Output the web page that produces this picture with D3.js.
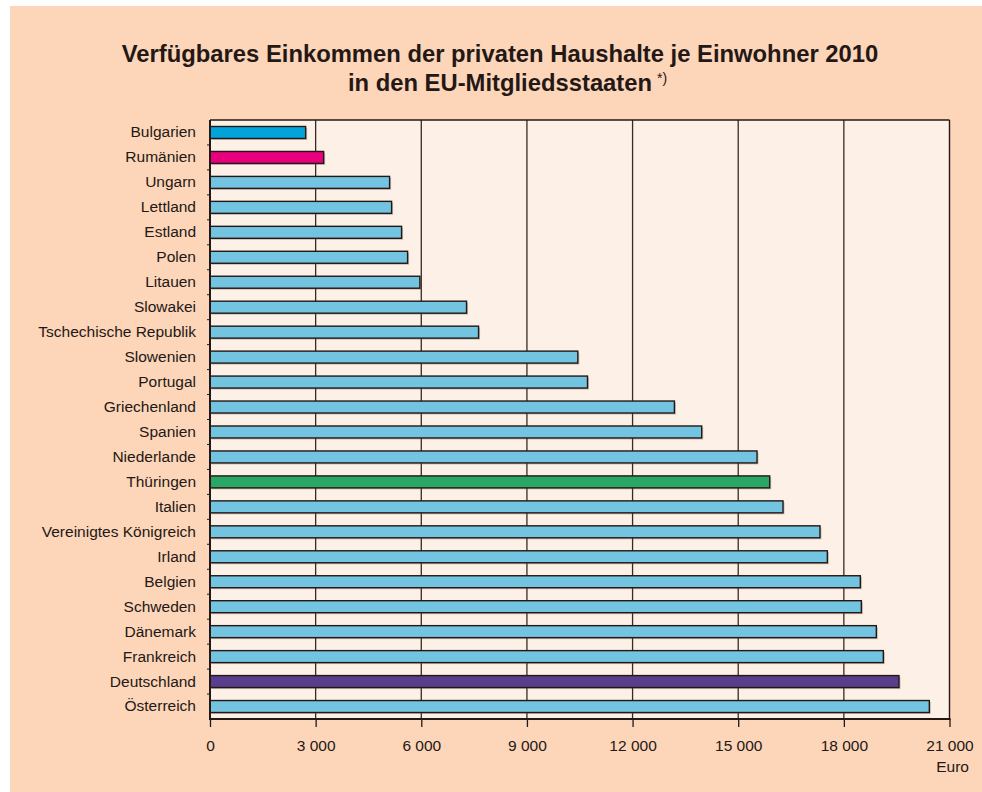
<!DOCTYPE html>
<html>
<head>
<meta charset="utf-8">
<script src="https://cdn.jsdelivr.net/npm/d3@7/dist/d3.min.js"></script>
<style>
  html, body { margin: 0; padding: 0; background: #ffffff; }
  svg { display: block; }
  text { font-family: "Liberation Sans", Arial, sans-serif; fill: #231815; }
</style>
</head>
<body>
<svg id="chart" width="982" height="792"></svg>
<script>
const countries = ["Bulgarien","Rumänien","Ungarn","Lettland","Estland","Polen","Litauen","Slowakei",
  "Tschechische Republik","Slowenien","Portugal","Griechenland","Spanien","Niederlande","Thüringen",
  "Italien","Vereinigtes Königreich","Irland","Belgien","Schweden","Dänemark","Frankreich","Deutschland","Österreich"];
const values = [2716, 3227, 5100, 5157, 5440, 5611, 5960, 7285,
  7626, 10445, 10720, 13188, 13963, 15534, 15894,
  16272, 17322, 17531, 18468, 18497, 18922, 19121, 19565, 20427];
const highlightColors = {"Bulgarien":"#00a4d8","Rumänien":"#e9007f","Thüringen":"#2aa767","Deutschland":"#583e8c"};
const defaultColor = "#72c4e0";
const xTicks = [0, 3000, 6000, 9000, 12000, 15000, 18000, 21000];
const titleLine1 = "Verfügbares Einkommen der privaten Haushalte je Einwohner 2010";
const titleLine2 = "in den EU-Mitgliedsstaaten";
const titleSup = "*)";
const unitLabel = "Euro";

(function () {
const svg = d3.select("#chart");
const fmt = v => d3.format(",")(v).replace(/,/g, " ");

svg.append("rect").attr("x", 10).attr("y", 6).attr("width", 972).attr("height", 786).attr("fill", "#fdd5b9");

const pL = 210, pR = 949.5, pT = 120, pB = 719;
const x = d3.scaleLinear().domain([0, 21000]).range([pL, pR]);
const y = d3.scaleBand().domain(countries).range([pT, pB]).paddingInner(0.52).paddingOuter(0.26);

svg.append("rect").attr("x", pL).attr("y", pT).attr("width", pR - pL).attr("height", pB - pT).attr("fill", "#fdf0e6");

// gridlines
svg.append("g").selectAll("line").data(xTicks.filter(t => t > 0 && t < 21000)).join("line")
  .attr("x1", d => x(d)).attr("x2", d => x(d)).attr("y1", pT).attr("y2", pB)
  .attr("stroke", "#3a2a20").attr("stroke-width", 1.3);

// bars shadow
svg.append("g").selectAll("rect").data(countries).join("rect")
  .attr("x", x(0) + 1.5).attr("y", d => y(d) + 1.5)
  .attr("width", (d, i) => x(values[i]) - x(0)).attr("height", y.bandwidth())
  .attr("fill", "#6b5a50").attr("opacity", 0.35);

// bars
svg.append("g").selectAll("rect").data(countries).join("rect")
  .attr("x", x(0)).attr("y", d => y(d))
  .attr("width", (d, i) => x(values[i]) - x(0)).attr("height", y.bandwidth())
  .attr("fill", d => highlightColors[d] || defaultColor)
  .attr("stroke", "#231815").attr("stroke-width", 1.4);

// frame top & right
svg.append("line").attr("x1", pL).attr("x2", pR).attr("y1", pT).attr("y2", pT).attr("stroke", "#231815").attr("stroke-width", 1.4);
svg.append("line").attr("x1", pR).attr("x2", pR).attr("y1", pT).attr("y2", pB).attr("stroke", "#231815").attr("stroke-width", 1.4);

// bottom axis
const xAxis = d3.axisBottom(x).tickValues(xTicks).tickFormat(fmt).tickSize(8).tickPadding(13);
const gx = svg.append("g").attr("transform", `translate(0,${pB})`).call(xAxis);
gx.select(".domain").attr("stroke", "#231815").attr("stroke-width", 2).attr("d", `M${pL - 1},0H${pR + 1}`);
gx.selectAll(".tick line").attr("stroke", "#231815").attr("stroke-width", 1.3);
gx.selectAll(".tick text").attr("font-size", "15.5px").attr("font-family", "Liberation Sans, Arial, sans-serif").attr("fill", "#231815");

// left axis
const yAxis = d3.axisLeft(y).tickSize(0).tickPadding(14);
const gy = svg.append("g").attr("transform", `translate(${pL},0)`).call(yAxis);
gy.select(".domain").attr("stroke", "#231815").attr("stroke-width", 2).attr("d", `M0,${pT}V${pB}`);
gy.selectAll(".tick text").attr("font-size", "15.5px").attr("font-family", "Liberation Sans, Arial, sans-serif").attr("fill", "#231815");
// small band-boundary ticks
svg.append("g").selectAll("line").data(countries.slice(1)).join("line")
  .attr("x1", pL - 3).attr("x2", pL).attr("y1", d => y(d) - y.step() * y.paddingInner() / 2).attr("y2", d => y(d) - y.step() * y.paddingInner() / 2)
  .attr("stroke", "#231815").attr("stroke-width", 1);

// unit label
svg.append("text").attr("x", 969).attr("y", 772).attr("text-anchor", "end").attr("font-size", "15.5px").text(unitLabel);

// title
svg.append("text").attr("x", 500).attr("y", 61.5).attr("text-anchor", "middle")
  .attr("font-size", "23.8px").attr("font-weight", "bold").text(titleLine1);
const t2 = svg.append("text").attr("x", 500).attr("y", 90.5).attr("text-anchor", "middle")
  .attr("font-size", "23.8px").attr("font-weight", "bold").text(titleLine2);
const w2 = t2.node().getComputedTextLength();
svg.append("text").attr("x", 500 + w2 / 2 + 5).attr("y", 83).attr("font-size", "14px").text(titleSup);
})();
</script>
</body>
</html>
